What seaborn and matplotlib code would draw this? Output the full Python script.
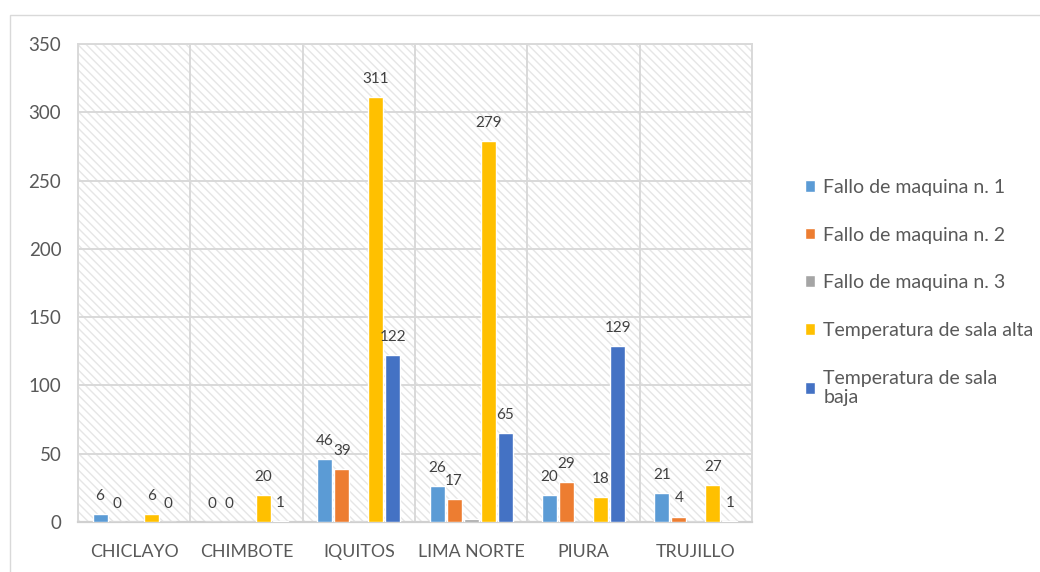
import matplotlib
matplotlib.use("Agg")
import matplotlib.pyplot as plt
from matplotlib.patches import Rectangle
import seaborn as sns
import pandas as pd
import numpy as np

categories = ["CHICLAYO", "CHIMBOTE", "IQUITOS", "LIMA NORTE", "PIURA", "TRUJILLO"]
series = ["Fallo de maquina n. 1", "Fallo de maquina n. 2", "Fallo de maquina n. 3",
          "Temperatura de sala alta", "Temperatura de sala baja"]
fallo1 = [6, 0, 46, 26, 20, 21]
fallo2 = [0, 0, 39, 17, 29, 4]
fallo3 = [0, 0, 0, 2, 0, 0]
temp_alta = [6, 20, 311, 279, 18, 27]
temp_baja = [0, 1, 122, 65, 129, 1]
values = [fallo1, fallo2, fallo3, temp_alta, temp_baja]
labelled = [True, True, False, True, True]
colors = ["#5B9BD5", "#ED7D31", "#A5A5A5", "#FFC000", "#4472C4"]
legend_labels = ["Fallo de maquina n. 1", "Fallo de maquina n. 2", "Fallo de maquina n. 3",
                 "Temperatura de sala alta", "Temperatura de sala\nbaja"]
yticks = [0, 50, 100, 150, 200, 250, 300, 350]

rows = []
for s, vals in zip(series, values):
    for c, v in zip(categories, vals):
        rows.append({"cat": c, "series": s, "val": v})
df = pd.DataFrame(rows)

sns.set_theme(style="white")
plt.rcParams["font.family"] = ["Lato", "DejaVu Sans"]
plt.rcParams["hatch.linewidth"] = 1.0

fig = plt.figure(figsize=(10.4, 5.72), dpi=100)
ax = fig.add_axes([78/1040, 1-522/572, (752-78)/1040, (522-44)/572])

# hatched background
bg = Rectangle((0, 0), 1, 1, transform=ax.transAxes, facecolor="white",
               edgecolor="#e6e6e6", hatch="\\\\\\\\", lw=0, zorder=0)
ax.add_patch(bg)

sns.barplot(data=df, x="cat", y="val", hue="series", hue_order=series,
            order=categories, palette=colors, width=0.76, gap=0.12,
            saturation=1, ax=ax, legend=True, zorder=3, err_kws={"linewidth": 0})

for cont, vals, lab in zip(ax.containers, values, labelled):
    if lab:
        ax.bar_label(cont, labels=[str(v) for v in vals], padding=8,
                     fontsize=11, color="#404040")

ax.set_ylim(0, 350)
ax.set_xlim(-0.5, len(categories) - 0.5)
ax.set_yticks(yticks)
ax.set_yticklabels([str(t) for t in yticks], fontsize=13.5, color="#595959")
ax.set_xticks(range(len(categories)))
ax.set_xticklabels(categories, fontsize=12.8, color="#595959")
ax.set_xticks(np.arange(-0.5, len(categories), 1), minor=True)
ax.tick_params(axis="both", which="both", length=0)
ax.tick_params(axis="x", pad=16)
ax.tick_params(axis="y", pad=12)
ax.set_xlabel("")
ax.set_ylabel("")
ax.grid(True, axis="y", which="major", color="#d9d9d9", lw=1.4, zorder=1)
ax.grid(True, axis="x", which="minor", color="#d9d9d9", lw=1.4, zorder=1)
ax.grid(False, axis="x", which="major")
ax.set_axisbelow(True)
for sp in ax.spines.values():
    sp.set_color("#d9d9d9")
    sp.set_linewidth(1.4)
ax.spines["bottom"].set_color("#d0d0d0")
ax.spines["bottom"].set_linewidth(1.6)

handles, _ = ax.get_legend_handles_labels()
ax.legend(handles, legend_labels, loc="upper left",
          bbox_to_anchor=(797/1040, 1-171/572), bbox_transform=fig.transFigure,
          frameon=False, fontsize=14, labelcolor="#595959",
          handlelength=0.55, handleheight=0.55, handletextpad=0.4,
          labelspacing=1.58, borderaxespad=0)

fig.add_artist(Rectangle((10/1040, -0.1), 1.2, 1.1 - 15/572, transform=fig.transFigure,
                         fill=False, edgecolor="#d9d9d9", lw=1.0))

fig.savefig("out.png", dpi=100)
